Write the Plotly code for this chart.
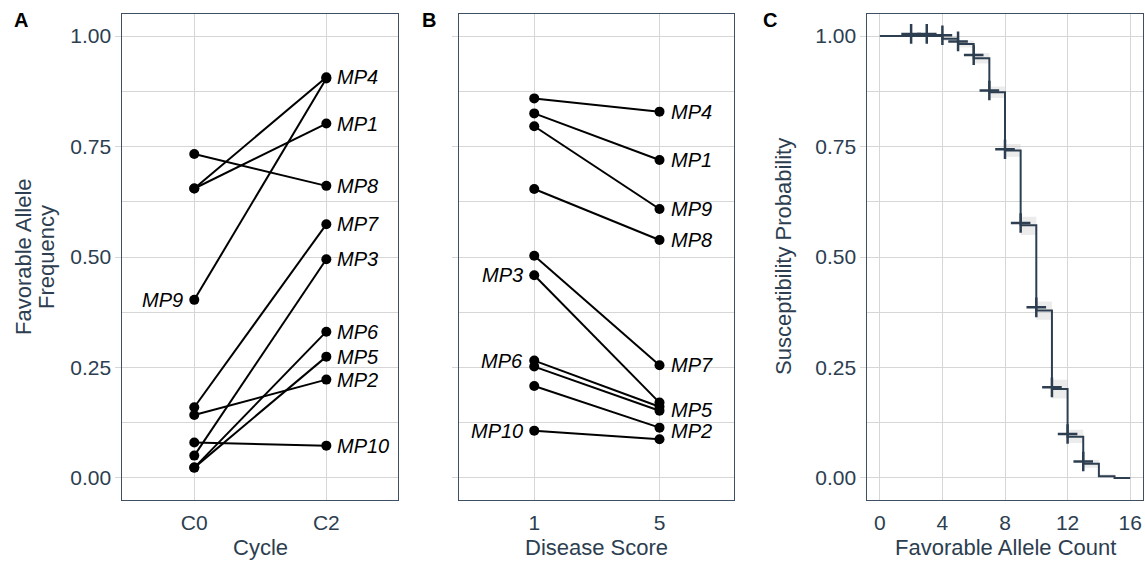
import plotly.graph_objects as go

# ---------------- data ----------------
markers = ["MP1", "MP2", "MP3", "MP4", "MP5", "MP6", "MP7", "MP8", "MP9", "MP10"]
cycles = ["C0", "C2"]
freq_c0 = [0.655, 0.1425, 0.0505, 0.655, 0.0233, 0.0233, 0.160, 0.733, 0.403, 0.080]
freq_c2 = [0.802, 0.2225, 0.495, 0.907, 0.2745, 0.331, 0.574, 0.661, 0.904, 0.073]
label_left_A = ["MP9"]

scores = ["1", "5"]
freq_s1 = [0.825, 0.208, 0.4586, 0.859, 0.252, 0.2655, 0.503, 0.654, 0.796, 0.107]
freq_s5 = [0.7195, 0.1138, 0.1704, 0.829, 0.152, 0.161, 0.255, 0.5385, 0.6086, 0.0875]
label_left_B = ["MP3", "MP6", "MP10"]

surv_time = [0, 4, 5, 6, 7, 8, 9, 10, 11, 12, 13, 14, 15, 16]
surv_prob = [1.000, 0.994, 0.982, 0.950, 0.873, 0.741, 0.572, 0.379, 0.201, 0.093, 0.032, 0.004, 0.0, 0.0]
surv_upper = [1.000, 0.999, 0.990, 0.962, 0.886, 0.756, 0.591, 0.399, 0.222, 0.109, 0.041, 0.008, 0.0, 0.0]
surv_lower = [1.000, 0.989, 0.974, 0.938, 0.860, 0.727, 0.550, 0.358, 0.180, 0.079, 0.023, 0.0, 0.0, 0.0]
cens_time = [2, 3, 4, 5, 6, 7, 8, 9, 10, 11, 12, 13]
cens_prob = [1.005, 1.005, 1.002, 0.988, 0.957, 0.877, 0.744, 0.577, 0.386, 0.205, 0.0995, 0.037]

y_ticks = [0, 0.25, 0.5, 0.75, 1.0]
c_ticks = [0, 4, 8, 12, 16]

# ---------------- style ----------------
W, H = 1145, 562
FONT = "Liberation Sans, Arial, Helvetica, sans-serif"
TEXT = "#2c3e50"
GRID = "#d6d6d6"
BORDER = "#3e5062"


def px(xp):
    return xp / W


def py(yp):
    return 1 - yp / H


top, bottom = 14, 500
dom_A = [px(122.3), px(398.3)]
dom_B = [px(458.7), px(734.3)]
dom_C = [px(867.3), px(1142.7)]
dom_y = [py(bottom), py(top)]

fig = go.Figure()

# Panel A
for m, a, b in zip(markers, freq_c0, freq_c2):
    fig.add_trace(go.Scatter(x=cycles, y=[a, b], mode="lines+markers",
                             line=dict(color="black", width=2),
                             marker=dict(color="black", size=10),
                             xaxis="x", yaxis="y", showlegend=False, hoverinfo="skip"))
# Panel B
for m, a, b in zip(markers, freq_s1, freq_s5):
    fig.add_trace(go.Scatter(x=scores, y=[a, b], mode="lines+markers",
                             line=dict(color="black", width=2),
                             marker=dict(color="black", size=10),
                             xaxis="x2", yaxis="y2", showlegend=False, hoverinfo="skip"))
# Panel C ribbon
fig.add_trace(go.Scatter(x=surv_time, y=surv_lower, mode="lines", line=dict(width=0, shape="hv"),
                         xaxis="x3", yaxis="y3", showlegend=False, hoverinfo="skip"))
fig.add_trace(go.Scatter(x=surv_time, y=surv_upper, mode="lines", line=dict(width=0, shape="hv"),
                         fill="tonexty", fillcolor="rgba(200,200,200,0.35)",
                         xaxis="x3", yaxis="y3", showlegend=False, hoverinfo="skip"))
fig.add_trace(go.Scatter(x=surv_time, y=surv_prob, mode="lines",
                         line=dict(color=TEXT, width=2, shape="hv"),
                         xaxis="x3", yaxis="y3", showlegend=False, hoverinfo="skip"))
fig.add_trace(go.Scatter(x=cens_time, y=cens_prob, mode="markers",
                         marker=dict(symbol="cross-thin", size=14,
                                     line=dict(color=TEXT, width=2.5)),
                         xaxis="x3", yaxis="y3", showlegend=False, hoverinfo="skip"))

annotations = []
lab_font = dict(size=20, color="black", family=FONT, style="italic")
# small vertical nudges (pixels) used where labels sit close together
label_nudge_B = {"MP5": 1, "MP2": -3}
# MP labels (x given as category index: 0 = first category, 1 = second)
for m, a, b in zip(markers, freq_c0, freq_c2):
    if m in label_left_A:
        annotations.append(dict(x=cycles.index("C0"), y=a, xref="x", yref="y", text=m, showarrow=False,
                                xanchor="right", xshift=-10, borderpad=0, font=lab_font))
    else:
        annotations.append(dict(x=cycles.index("C2"), y=b, xref="x", yref="y", text=m, showarrow=False,
                                xanchor="left", xshift=10, borderpad=0, font=lab_font))
for m, a, b in zip(markers, freq_s1, freq_s5):
    if m in label_left_B:
        annotations.append(dict(x=scores.index("1"), y=a, xref="x2", yref="y2", text=m, showarrow=False,
                                xanchor="right", xshift=-10, borderpad=0, font=lab_font))
    else:
        annotations.append(dict(x=scores.index("5"), y=b, xref="x2", yref="y2", text=m, showarrow=False,
                                xanchor="left", xshift=10, yshift=label_nudge_B.get(m, 0), borderpad=0,
                                font=lab_font))

# panel letters
for letter, xp in [("A", 12), ("B", 420), ("C", 761)]:
    annotations.append(dict(x=px(xp), y=py(20), xref="paper", yref="paper", text="<b>%s</b>" % letter,
                            showarrow=False, xanchor="left", yanchor="middle",
                            font=dict(size=20, color="black", family=FONT)))

# axis titles
title_font = dict(size=22, color=TEXT, family=FONT)
annotations += [
    dict(x=px(260.3), y=py(547), xref="paper", yref="paper", text="Cycle", showarrow=False,
         xanchor="center", yanchor="middle", font=title_font),
    dict(x=px(596.5), y=py(547), xref="paper", yref="paper", text="Disease Score", showarrow=False,
         xanchor="center", yanchor="middle", font=title_font),
    dict(x=px(1005), y=py(547), xref="paper", yref="paper", text="Favorable Allele Count", showarrow=False,
         xanchor="center", yanchor="middle", font=title_font),
    dict(x=px(23), y=py(257), xref="paper", yref="paper", text="Favorable Allele", showarrow=False,
         xanchor="center", yanchor="middle", textangle=-90, font=title_font),
    dict(x=px(46), y=py(257), xref="paper", yref="paper", text="Frequency", showarrow=False,
         xanchor="center", yanchor="middle", textangle=-90, font=title_font),
    dict(x=px(783), y=py(257), xref="paper", yref="paper", text="Susceptibility Probability", showarrow=False,
         xanchor="center", yanchor="middle", textangle=-90, font=title_font),
]

tick_font = dict(size=21, color=TEXT, family=FONT)
common_x = dict(showline=True, mirror=True, linecolor=BORDER, linewidth=1,
                showgrid=True, gridcolor=GRID, gridwidth=1, zeroline=False,
                ticks="outside", ticklen=4, tickcolor="rgba(0,0,0,0)",
                tickfont=tick_font)
common_y = dict(showline=True, mirror=True, linecolor=BORDER, linewidth=1,
                showgrid=True, gridcolor=GRID, gridwidth=1, zeroline=False,
                range=[-0.05, 1.05], tickvals=y_ticks, tickformat=".2f",
                minor=dict(tickvals=[0.125, 0.375, 0.625, 0.875], showgrid=True, gridcolor=GRID, ticks=""),
                ticks="outside", ticklen=6, tickcolor=GRID, tickfont=tick_font, domain=dom_y)

fig.update_layout(
    width=W, height=H, margin=dict(l=0, r=0, t=0, b=0),
    paper_bgcolor="white", plot_bgcolor="white",
    font=dict(family=FONT, color=TEXT),
    showlegend=False,
    xaxis=dict(common_x, domain=dom_A, type="category", categoryorder="array", categoryarray=cycles,
               range=[-0.545, 1.545], anchor="y"),
    yaxis=dict(common_y, anchor="x"),
    xaxis2=dict(common_x, domain=dom_B, type="category", categoryorder="array", categoryarray=scores,
                range=[-0.603, 1.597], anchor="y2"),
    yaxis2=dict(common_y, anchor="x2", showticklabels=False),
    xaxis3=dict(common_x, domain=dom_C, range=[-0.8, 16.8], tickvals=c_ticks, anchor="y3"),
    yaxis3=dict(common_y, anchor="x3"),
    annotations=annotations,
)

fig.write_html("out.html")
